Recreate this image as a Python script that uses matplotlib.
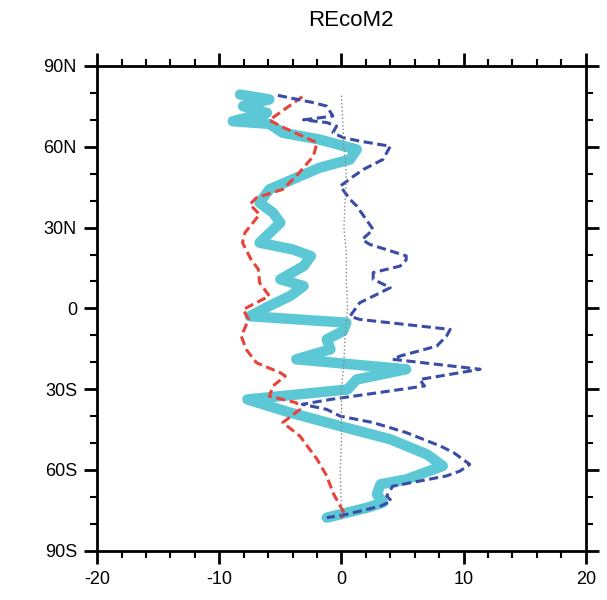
import matplotlib
matplotlib.use("Agg")
import matplotlib.pyplot as plt
from matplotlib.ticker import MultipleLocator, FixedLocator

plt.rcParams["font.family"] = ["Liberation Sans", "DejaVu Sans"]
plt.rcParams["axes.unicode_minus"] = False

# values (x value, latitude)
red_lat = [78.6, 69.9, 67.7, 61.5, 56.5, 49.1, 44.2, 41.1, 38.6, 34.9, 28.1, 24.4,
           18.2, 14.5, 9.5, 4.6, -0.4, -4.1, -10.3, -15.2, -20.2, -23.9, -25.1,
           -28.8, -32.6, -35.0, -37.5, -42.4, -47.4, -56.0, -62.2, -68.4, -73.4,
           -76.5, -77.7]
red_val = [-3.2, -5.9, -5.0, -2.0, -2.3, -3.7, -4.8, -6.95, -7.5, -6.7, -7.9, -8.1,
           -7.4, -6.8, -6.7, -5.9, -8.05, -7.6, -8.2, -7.8, -6.95, -5.0, -4.6,
           -5.6, -5.9, -3.7, -3.4, -4.8, -3.4, -2.0, -1.2, -0.7, -0.1,
           0.3, -0.1]

blue_lat = [79.1, 76.4, 75.1, 71.4, 70.0, 69.0, 67.7, 65.2, 63.4, 62.1, 60.2, 55.3,
            51.6, 49.1, 45.4, 40.5, 38.0, 29.3, 25.6, 23.8, 19.5, 18.0, 15.7, 13.3,
            10.8, 7.7, 5.2, 2.1, -2.9, -4.1, -7.8, -10.3, -14.0, -17.7, -18.9,
            -22.6, -26.4, -28.8, -31.3, -33.8, -35.6, -37.5, -40.0, -42.4, -46.1,
            -51.1, -53.6, -57.9, -60.4, -62.2, -66.0, -69.7, -71.5, -73.4, -76.5,
            -77.7]
blue_val = [-5.2, -2.3, -1.2, -0.7, -3.1, -1.2, -0.4, -0.7, 0.15, 1.5, 4.0, 3.4,
            1.8, 1.0, -0.1, 0.7, 1.25, 2.6, 1.7, 2.3, 5.3, 5.3, 4.8, 2.6,
            2.6, 4.0, 2.9, 1.5, 0.7, 1.5, 8.9, 8.6, 7.8, 4.8, 4.2,
            11.35, 6.4, 6.8, 3.0, -0.9, -3.2, -1.2, -0.1, 2.6, 5.3,
            8.1, 9.2, 10.5, 9.7, 8.6, 4.2, 3.7, 4.1, 3.2, 0.4,
            -1.2]

cyan_lat = [79.4, 77.6, 75.1, 72.6, 69.5, 68.5, 65.2, 62.7, 59.0, 55.3, 52.2, 47.9,
            44.2, 39.2, 35.5, 31.8, 24.4, 21.9, 19.4, 15.7, 10.8, 8.3, 4.6, 0.9,
            -2.9, -5.3, -8.4, -11.5, -15.2, -18.9, -22.6, -26.4, -30.1, -33.8,
            -38.7, -43.7, -48.6, -54.2, -58.5, -63.5, -65.3, -69.0, -72.1, -74.0,
            -77.7]
cyan_val = [-8.3, -5.9, -8.05, -6.1, -8.9, -5.9, -4.8, -1.8, 1.25, 0.7, -1.8, -4.0,
            -5.9, -6.7, -5.6, -5.0, -6.7, -4.0, -2.5, -3.1, -5.0, -3.1, -4.2, -5.9,
            -7.5, 0.4, 0.15, -1.2, -0.9, -3.7, 5.3, 1.25, 0.5, -7.7,
            -4.2, -0.1, 4.0, 7.0, 8.3, 5.3, 3.2, 2.9, 3.4, 2.1,
            -1.2]

gray_lat = [79, 60, 50, 40, 30, 20, 10, 0, -10, -20, -30, -40, -50, -60, -77]
gray_val = [0.0, 0.2, 0.4, 0.3, 0.2, 0.4, 0.4, 0.5, 0.3, 0.2, 0.0, 0.0, 0.0, -0.1, 0.0]

lat_ticks = [90, 60, 30, 0, -30, -60, -90]
lat_labels = ["90N", "60N", "30N", "0", "30S", "60S", "90S"]

fig = plt.figure(figsize=(6.07, 6.0), dpi=100)
ax = fig.add_axes([0.16, 0.082, 0.805, 0.808])

ax.plot(cyan_val, cyan_lat, color="#5cc8d6", lw=7.5, solid_joinstyle="round",
        solid_capstyle="round", zorder=2)
ax.plot(red_val, red_lat, color="#e8433a", lw=2.2, dashes=(3, 1.5), zorder=3)
ax.plot(blue_val, blue_lat, color="#3a4ca6", lw=2.2, dashes=(3, 1.5), zorder=3)
ax.plot(gray_val, gray_lat, color="#888888", lw=1, linestyle=":", zorder=4)

ax.set_xlim(-20, 20)
ax.set_ylim(-90, 90)
ax.xaxis.set_major_locator(MultipleLocator(10))
ax.xaxis.set_minor_locator(MultipleLocator(2))
ax.yaxis.set_major_locator(FixedLocator(lat_ticks))
ax.yaxis.set_minor_locator(MultipleLocator(10))
ax.set_yticklabels(lat_labels)

ax.tick_params(which="both", direction="out", top=True, right=True,
               labeltop=False, labelright=False, labelsize=13)
ax.tick_params(which="major", length=9.5, width=2, pad=5)
ax.tick_params(which="minor", length=5, width=1.5)
for s in ax.spines.values():
    s.set_linewidth(2)

ax.set_title("REcoM2", fontsize=16, pad=29, x=0.52)

fig.savefig("out.png", dpi=100)
